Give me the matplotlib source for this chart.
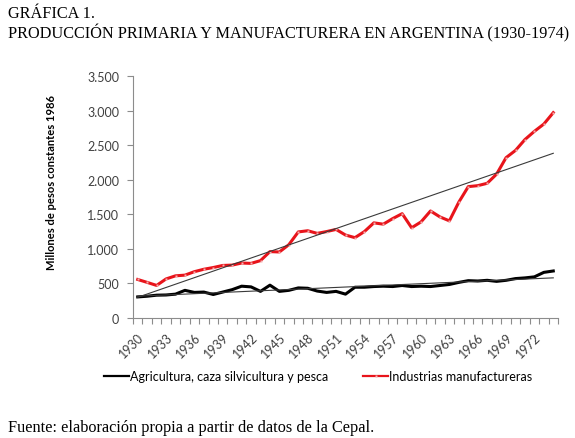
import numpy as np
import matplotlib.pyplot as plt
from matplotlib.ticker import FuncFormatter, MultipleLocator

# Years on the category axis
years = list(range(1930, 1975))

# Agricultura, caza silvicultura y pesca (millones de pesos constantes 1986)
agricultura = [305, 315, 330, 333, 345, 400, 370, 375, 340, 375,
               410, 460, 450, 385, 475, 385, 400, 435, 430, 390,
               370, 385, 345, 445, 445, 455, 460, 455, 470, 455,
               460, 455, 470, 485, 515, 540, 535, 545, 530, 545,
               570, 580, 595, 660, 680]

# Industrias manufactureras
industria = [557, 515, 471, 565, 610, 620, 670, 705, 730, 760,
             765, 795, 790, 830, 960, 955, 1060, 1245, 1262, 1224,
             1250, 1281, 1200, 1162, 1250, 1376, 1357, 1438, 1509, 1305,
             1390, 1548, 1462, 1405, 1676, 1900, 1914, 1948, 2081, 2319,
             2424, 2581, 2700, 2805, 2970]

serif = ['Liberation Serif', 'DejaVu Serif']
sans = ['Lato', 'DejaVu Sans']

fig = plt.figure(figsize=(5.75, 4.39), dpi=100)
ax = fig.add_axes([133 / 575, 1 - 319 / 439, 425 / 575, 242 / 439])

x = np.array(years)
ag = np.array(agricultura)
ind = np.array(industria)

ax.plot(x, ag, color='black', lw=2.2, solid_joinstyle='round',
        label='Agricultura, caza silvicultura y pesca', zorder=3)
ax.plot(x, ind, color='#e8141b', lw=2.2, solid_joinstyle='round',
        marker='s', markersize=2.0, markerfacecolor='#f4b0b0',
        markeredgecolor='none', label='Industrias manufactureras', zorder=4)

# linear trend lines
for serie in (ag, ind):
    m, b = np.polyfit(x, serie, 1)
    ax.plot(x, m * x + b, color='#3a3a3a', lw=0.8, zorder=5)

ax.set_xlim(1929.5, 1974.5)
ax.set_ylim(0, 3500)

ax.yaxis.set_major_locator(MultipleLocator(500))
ax.yaxis.set_major_formatter(FuncFormatter(lambda v, p: f"{int(v):,}".replace(',', '.')))

label_years = years[::3]
ax.set_xticks(label_years)
ax.set_xticklabels([str(y) for y in label_years], rotation=45, ha='right',
                   rotation_mode='anchor')
ax.set_xticks(np.arange(1929.5, 1975, 1.0), minor=True)
ax.tick_params(axis='x', which='major', length=0, pad=9)
ax.tick_params(axis='x', which='minor', length=4, color='#8c8c8c', width=0.8)
ax.tick_params(axis='y', length=4, color='#8c8c8c', width=0.8, pad=6)

for lbl in ax.get_xticklabels() + ax.get_yticklabels():
    lbl.set_fontfamily(sans)
    lbl.set_fontsize(9)
    lbl.set_color('#404040')

for side in ('top', 'right'):
    ax.spines[side].set_visible(False)
for side in ('left', 'bottom'):
    ax.spines[side].set_color('#8c8c8c')
    ax.spines[side].set_linewidth(0.8)

fig.text(52 / 575, 1 - 183 / 439, 'Millones de pesos constantes 1986', rotation=90,
         ha='center', va='center', fontsize=8, fontweight='bold',
         family=sans, color='black')

fig.text(8 / 575, 1 - 14 / 439, 'GRÁFICA 1.', family=serif, fontsize=11.7,
         ha='left', va='center')
fig.text(8 / 575, 1 - 33 / 439,
         'PRODUCCIÓN PRIMARIA Y MANUFACTURERA EN ARGENTINA (1930-1974)',
         family=serif, fontsize=11.7, ha='left', va='center')
fig.text(8 / 575, 1 - 428 / 439,
         'Fuente: elaboración propia a partir de datos de la Cepal.',
         family=serif, fontsize=11.7, ha='left', va='center')

leg = fig.legend(loc='center', bbox_to_anchor=(318 / 575, 1 - 377 / 439),
                 ncol=2, frameon=False, handlelength=2.0, handletextpad=0.1,
                 columnspacing=2.8, prop={'family': sans, 'size': 9})
for line in leg.get_lines():
    line.set_linewidth(1.6)

fig.savefig('out.png', dpi=100)
